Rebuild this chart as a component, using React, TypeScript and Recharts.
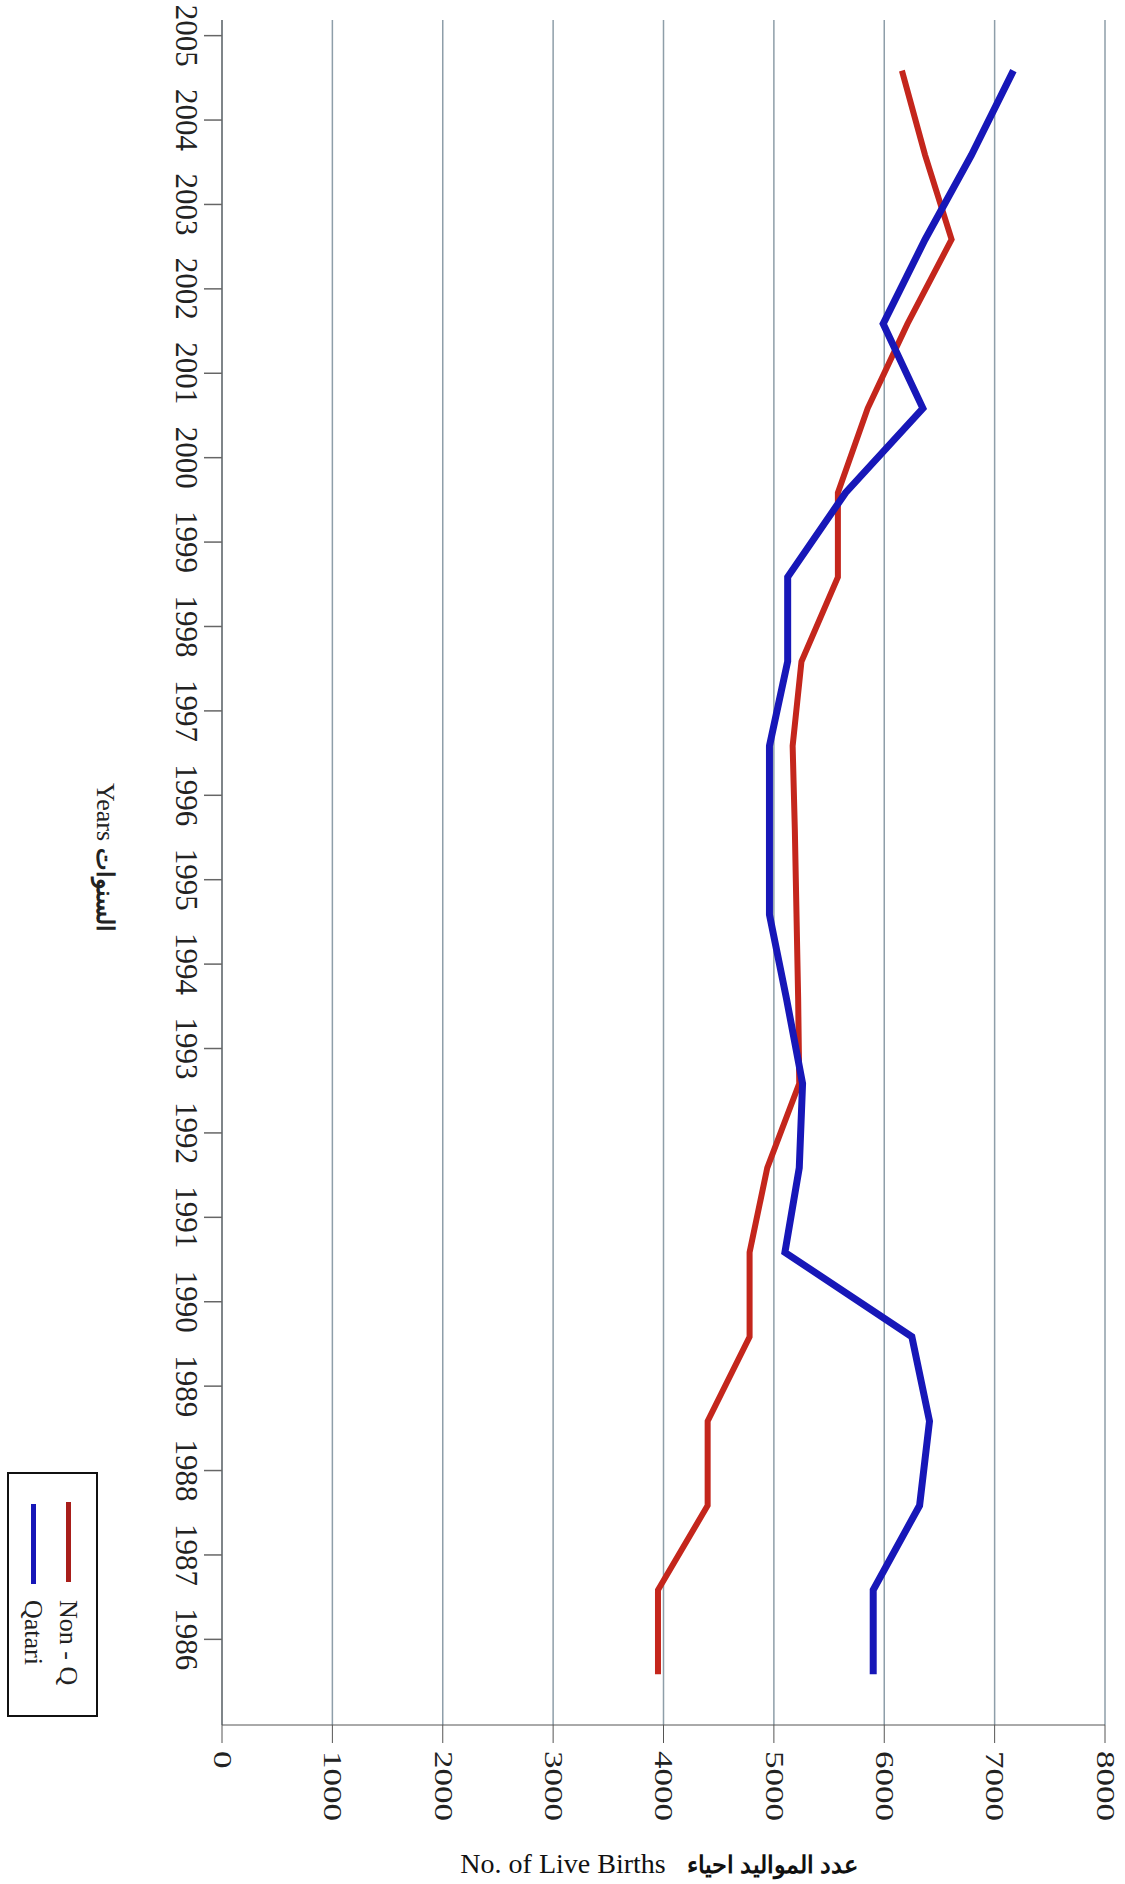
import { LineChart, Line, XAxis, YAxis, CartesianGrid } from "recharts";

// years on the vertical axis, 1986 at the bottom
const years = [
  1986, 1987, 1988, 1989, 1990, 1991, 1992, 1993, 1994, 1995,
  1996, 1997, 1998, 1999, 2000, 2001, 2002, 2003, 2004, 2005,
];

// No. of live births, non-Qatari (red)
const nonQatari = [
  3950, 3950, 4400, 4400, 4780, 4780, 4940, 5230, 5220, 5205,
  5190, 5170, 5250, 5580, 5580, 5850, 6210, 6610, 6370, 6160,
];

// No. of live births, Qatari (blue)
const qatari = [
  5900, 5900, 6320, 6410, 6250, 5100, 5230, 5260, 5115, 4960,
  4960, 4960, 5125, 5125, 5650, 6350, 5990, 6370, 6790, 7170,
];

const valueTicks = [0, 1000, 2000, 3000, 4000, 5000, 6000, 7000, 8000];

const RED = "#c4261c";
const BLUE = "#1717b8";
const SERIF = "'Liberation Serif', 'Times New Roman', serif";

const data = years.map((year, i) => ({
  year,
  nonQ: nonQatari[i],
  qatari: qatari[i],
}));

function ValueTick({ x, y, payload }: any) {
  return (
    <text
      transform={`translate(${x},${y + 6}) rotate(90) scale(1.4,1)`}
      textAnchor="start"
      dominantBaseline="central"
      fontSize={25}
      fontFamily={SERIF}
      fill="#222"
    >
      {payload.value}
    </text>
  );
}

function YearTick({ x, y, payload }: any) {
  // labels sit a little above the data rows in the source scan
  const ty = y - 35;
  return (
    <g>
      <line x1={x} x2={x + 18} y1={ty} y2={ty} stroke="#666" strokeWidth={1.5} />
      <text
        transform={`translate(${x - 18},${ty}) rotate(90)`}
        textAnchor="middle"
        dominantBaseline="central"
        fontSize={31}
        fontFamily={SERIF}
        fill="#222"
      >
        {payload.value}
      </text>
    </g>
  );
}

export default function App() {
  return (
    <div style={{ position: "absolute", left: 0, top: 0, width: 1125, height: 1884, background: "#fff", fontFamily: SERIF }}>
      <LineChart
        width={1125}
        height={1884}
        layout="vertical"
        data={data}
        margin={{ top: 20, right: 20, bottom: 99, left: 162 }}
      >
        <CartesianGrid horizontal={false} stroke="#8e9ea9" strokeWidth={1.5} />
        <XAxis
          type="number"
          domain={[0, 8000]}
          ticks={valueTicks}
          interval={0}
          height={60}
          tickSize={18}
          stroke="#555"
          tick={<ValueTick />}
        />
        <XAxis
          xAxisId="top"
          orientation="top"
          type="number"
          domain={[0, 8000]}
          height={0}
          tick={false}
          tickLine={false}
          stroke="#777"
        />
        <YAxis
          type="number"
          dataKey="year"
          domain={[1985.4, 2005.6]}
          ticks={years}
          interval={0}
          reversed
          width={60}
          tickSize={18}
          tickMargin={0}
          tickLine={false}
          stroke="#555"
          tick={<YearTick />}
        />
        <Line dataKey="nonQ" name="Non - Q" stroke={RED} strokeWidth={6} dot={false} isAnimationActive={false} />
        <Line dataKey="qatari" name="Qatari" stroke={BLUE} strokeWidth={7} dot={false} isAnimationActive={false} />
      </LineChart>

      {/* axis title for years, turned like the scan */}
      <div
        style={{
          position: "absolute",
          left: 91,
          top: 783,
          writingMode: "vertical-rl",
          fontSize: 26,
          lineHeight: "28px",
          color: "#222",
          whiteSpace: "nowrap",
        }}
      >
        Years <b style={{ fontSize: 24 }}>السنوات</b>
      </div>

      {/* value axis title */}
      <div
        style={{
          position: "absolute",
          left: 359,
          width: 600,
          top: 1848,
          textAlign: "center",
          fontSize: 28,
          lineHeight: "32px",
          color: "#111",
          whiteSpace: "nowrap",
        }}
      >
        No. of Live Births&nbsp;&nbsp; <b style={{ fontSize: 24 }}>عدد المواليد احياء</b>
      </div>

      {/* legend box */}
      <div
        style={{
          position: "absolute",
          left: 7,
          top: 1472,
          width: 87,
          height: 241,
          border: "2px solid #111",
        }}
      >
        <div style={{ position: "absolute", left: 57, top: 28, width: 5, height: 80, background: "#a81e1a" }} />
        <div
          style={{
            position: "absolute",
            left: 46,
            top: 126,
            writingMode: "vertical-rl",
            fontSize: 26,
            lineHeight: "26px",
            color: "#222",
            whiteSpace: "nowrap",
          }}
        >
          Non - Q
        </div>
        <div style={{ position: "absolute", left: 22, top: 30, width: 5, height: 80, background: BLUE }} />
        <div
          style={{
            position: "absolute",
            left: 11,
            top: 126,
            writingMode: "vertical-rl",
            fontSize: 26,
            lineHeight: "26px",
            color: "#222",
            whiteSpace: "nowrap",
          }}
        >
          Qatari
        </div>
      </div>
    </div>
  );
}
